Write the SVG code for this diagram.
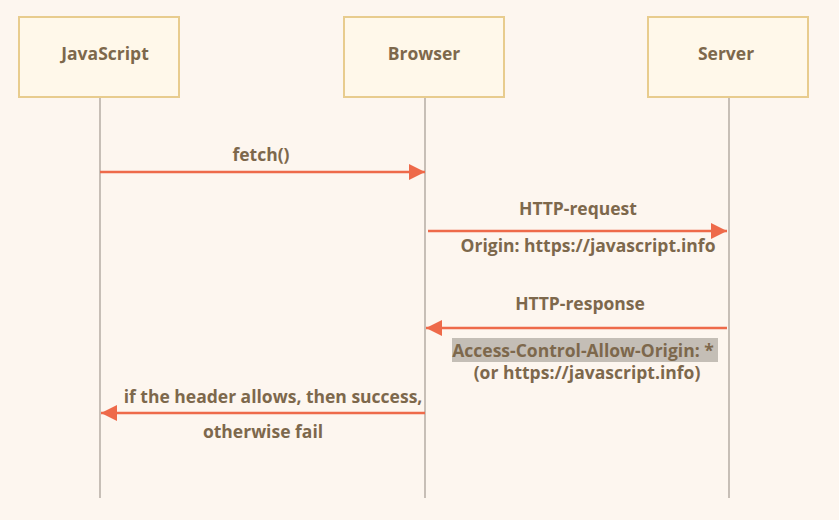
<svg xmlns="http://www.w3.org/2000/svg" width="839" height="520" viewBox="0 0 839 520">
<defs>
<style>
.box{fill:#fff8ea;stroke:#e8cc8e;stroke-width:2}
.life{stroke:#a39a90;stroke-width:1.2}
.t{font-family:"Open Sans","Liberation Sans",sans-serif;font-weight:bold;font-size:17.5px;fill:#7d684c;text-anchor:middle}
.arr{stroke:#ee6a4a;stroke-width:2.5;fill:none}
</style>
<marker id="ah" viewBox="0 0 10 10" refX="10" refY="5" markerWidth="18" markerHeight="16" markerUnits="userSpaceOnUse" orient="auto">
<path d="M0,0 L10,5 L0,10 Z" fill="#ee6a4a"/>
</marker>
</defs>
<rect width="839" height="520" fill="#fdf6ef"/>
<g id="lifelines">
<line class="life" x1="100" y1="97" x2="100" y2="498"/>
<line class="life" x1="425" y1="97" x2="425" y2="498"/>
<line class="life" x1="729" y1="97" x2="729" y2="498"/>
</g>
<g id="node-javascript">
<rect class="box" x="19" y="17" width="160" height="80"/>
<text class="t" x="105" y="60">JavaScript</text>
</g>
<g id="node-browser">
<rect class="box" x="344" y="17" width="160" height="80"/>
<text class="t" x="424" y="60">Browser</text>
</g>
<g id="node-server">
<rect class="box" x="648" y="17" width="160" height="80"/>
<text class="t" x="726" y="60">Server</text>
</g>
<g id="connectors">
<line class="arr" x1="100" y1="172" x2="425" y2="172" marker-end="url(#ah)"/>
<line class="arr" x1="428" y1="231" x2="727" y2="231" marker-end="url(#ah)"/>
<line class="arr" x1="727" y1="328" x2="426" y2="328" marker-end="url(#ah)"/>
<line class="arr" x1="425" y1="413" x2="101" y2="413" marker-end="url(#ah)"/>
</g>
<g id="labels">
<text class="t" x="261" y="161">fetch()</text>
<text class="t" x="578" y="215">HTTP-request</text>
<text class="t" x="588" y="252">Origin: https://javascript.info</text>
<text class="t" x="580" y="310">HTTP-response</text>
<rect x="452" y="338" width="266" height="24" fill="#c4beb6"/>
<text class="t" x="583" y="357">Access-Control-Allow-Origin: *</text>
<text class="t" x="587" y="379">(or https://javascript.info)</text>
<text class="t" x="273" y="403">if the header allows, then success,</text>
<text class="t" x="263" y="438">otherwise fail</text>
</g>
</svg>
